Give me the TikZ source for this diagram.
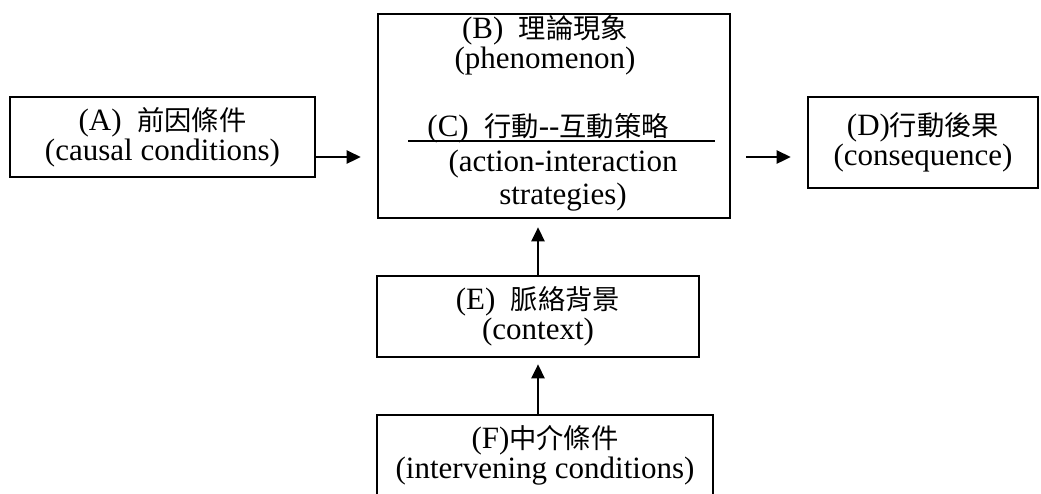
\documentclass[tikz,border=0pt]{standalone}
\usepackage{fontspec}
\setmainfont{Liberation Serif}
\newfontfamily\cjk[Scale=0.88]{Noto Sans CJK TC}
\usetikzlibrary{arrows.meta}

\begin{document}
\begin{tikzpicture}[x=1pt,y=-1pt,
        every node/.style={font=\fontsize{31}{30}\selectfont, align=center, inner sep=0pt},
        box/.style={draw, line width=2.6pt},
        arr/.style={line width=2.6pt, -{Triangle[length=14pt,width=13pt]}}]
    \useasboundingbox (0,0) rectangle (1041,493);

    \node[box, minimum width=305pt, minimum height=80pt] (A) at (162.5,137)
        {(A)\ \ {\cjk 前因條件}\\(causal conditions)};
    \node[box, minimum width=352pt, minimum height=204pt] (B) at (554,116) {};
    \node (Btxt) at (545,45) {(B)\ \ {\cjk 理論現象}\\(phenomenon)};
    \node (Ctxt) at (548,128) {(C)\ \ {\cjk 行動}-{}-{\cjk 互動策略}};
    \node (Stxt) at (563,181) {(action-interaction\\[3pt]strategies)};
    \coordinate (Cleft) at (408,141);
    \coordinate (Cright) at (715,141);
    \draw[line width=2.2pt] (Cleft) -- (Cright);
    \node[box, minimum width=230pt, minimum height=91pt] (D) at (923,142.5)
        {(D){\cjk 行動後果}\\(consequence)};
    \node[box, minimum width=322pt, minimum height=81pt] (E) at (538,316.5)
        {(E)\ \ {\cjk 脈絡背景}\\(context)};
    \node[box, minimum width=336pt, minimum height=80pt] (F) at (545,455)
        {(F){\cjk 中介條件}\\(intervening conditions)};

    \coordinate (row) at (0,157);
    \draw[arr, shorten >=16pt] (A.east |- row) -- (B.west |- row);
    \draw[arr, shorten <=15pt, shorten >=16pt] (B.east |- row) -- (D.west |- row);
    \draw[arr, shorten >=8pt] (E.north) -- (E.north |- B.south);
    \draw[arr, shorten >=6pt] (F.north -| E.north) -- (E.south);
\end{tikzpicture}
\end{document}
